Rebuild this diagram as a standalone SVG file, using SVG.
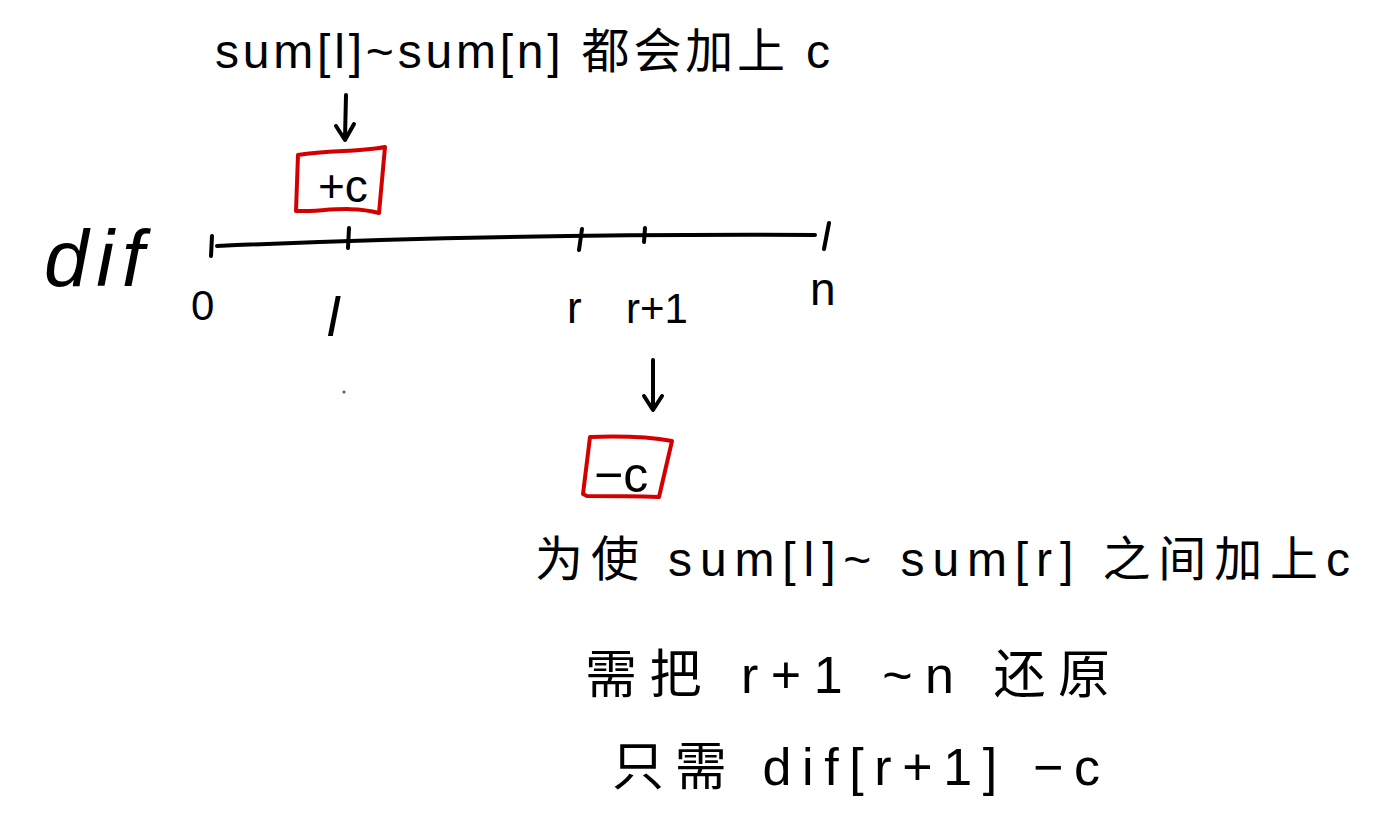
<svg xmlns="http://www.w3.org/2000/svg" width="1375" height="828" viewBox="0 0 1375 828">
<style>
text{font-family:"Liberation Sans","Noto Sans CJK SC",sans-serif;fill:#000}
.ink{fill:none;stroke:#000;stroke-width:4;stroke-linecap:round;stroke-linejoin:round}
.box{fill:none;stroke:#d40000;stroke-width:4;stroke-linejoin:round}
</style>
<rect width="1375" height="828" fill="#fff"/>
<g id="title"><text x="215" y="68" font-size="48" textLength="615" lengthAdjust="spacing">sum[l]~sum[n] 都会加上 c</text></g>
<g id="dif-label"><text x="44" y="286" font-size="80" font-style="italic" textLength="100" lengthAdjust="spacing">dif</text></g>
<g id="axis">
<path class="ink" d="M217 246 C400 238 600 234 815 235"/>
<path class="ink" d="M212 236 L211 256 M349 228 L348 248 M582 229 L579 250 M645 228 L644 242 M829 223 L824 249"/>
</g>
<g id="tick-labels">
<text x="191" y="320" font-size="42">0</text>
<text x="327" y="336" font-size="56" font-style="italic">l</text>
<text x="567" y="323" font-size="44">r</text>
<text x="626" y="323" font-size="42">r+1</text>
<text x="810" y="305" font-size="46">n</text>
</g>
<g id="plus-c">
<path class="box" d="M298 155 C330 150 360 152 385 147 L379 213 C350 205 320 212 296 211 Z"/>
<text x="318" y="202" font-size="46">+c</text>
</g>
<g id="minus-c">
<path class="box" d="M590 437 C620 436 650 437 672 441 L659 497 C630 496 610 496 587 496 L583 494 Z"/>
<text x="594" y="492" font-size="50">−c</text>
</g>
<g id="connectors">
<path class="ink" d="M346 95 L345 138 M336 126 L345 140 L354 124"/>
<path class="ink" d="M653 360 L653 408 M644 396 L653 410 L662 396"/>
</g>
<circle cx="344" cy="392" r="1.5" fill="#555"/>
<g id="note1"><text x="535" y="576" font-size="48" textLength="815" lengthAdjust="spacing">为使 sum[l]~ sum[r] 之间加上c</text></g>
<g id="note2"><text x="585" y="693" font-size="52" textLength="525" lengthAdjust="spacing">需把 r+1 ~n 还原</text></g>
<g id="note3"><text x="612" y="785" font-size="52" textLength="488" lengthAdjust="spacing">只需 dif[r+1] −c</text></g>
</svg>
